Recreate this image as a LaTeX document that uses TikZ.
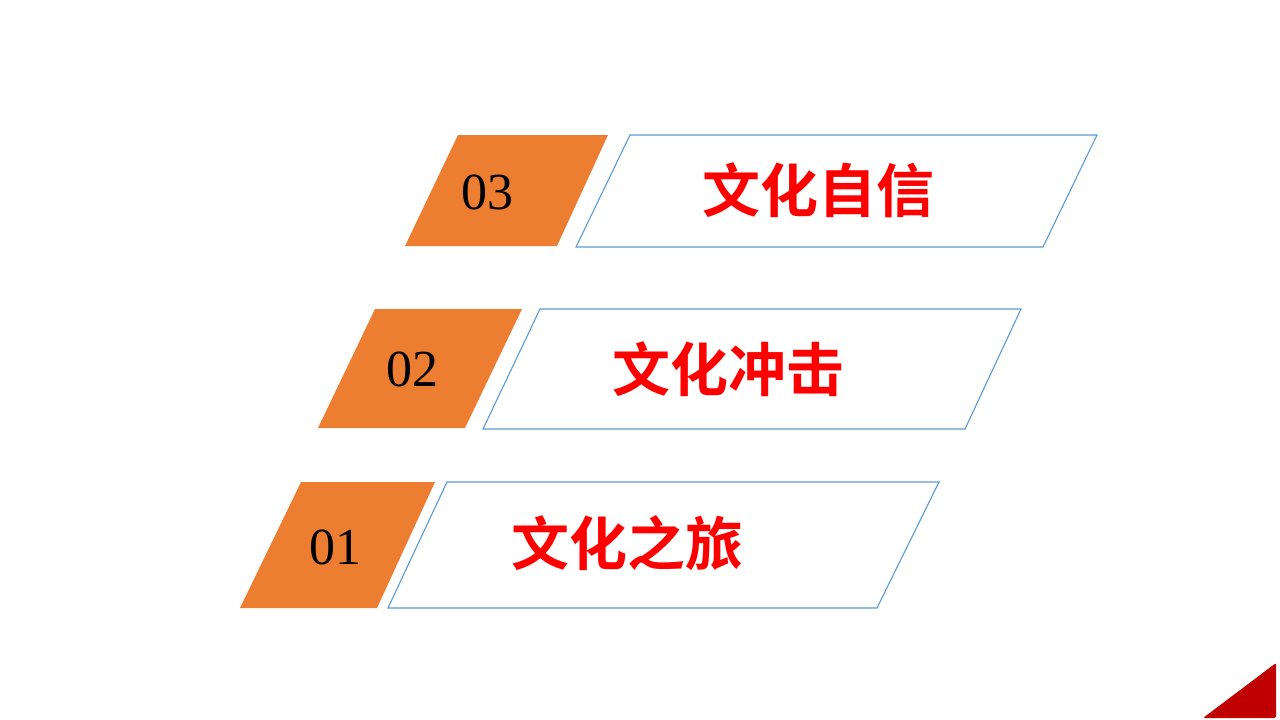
\documentclass[tikz,border=0pt]{standalone}
\usepackage{fontspec}
\setmainfont{Liberation Serif}
\newfontfamily\cjk{Noto Sans CJK SC}[BoldFont={Noto Sans CJK SC Bold}]
\definecolor{tagorange}{HTML}{ED7D31}
\definecolor{boxblue}{HTML}{5B9BD5}
\definecolor{cornerred}{HTML}{C00000}
\begin{document}
\begin{tikzpicture}[x=1pt,y=-1pt,
  tag/.style={fill=tagorange},
  frame/.style={draw=boxblue, line width=1.1pt, fill=white},
  num/.style={font=\fontsize{52}{52}\selectfont, text=black},
  title/.style={font=\cjk\bfseries\fontsize{58}{62}\selectfont, text=red}]
\useasboundingbox (0,0) rectangle (1280,720);

\path[tag] (458,135) -- (608,135) -- (557,246) -- (405,246) -- cycle;
\path[frame] (630,135) -- (1097,135) -- (1043,247) -- (576,247) -- cycle;
\path[tag] (375,309) -- (522,309) -- (465,428) -- (318,428) -- cycle;
\path[frame] (540,309) -- (1021,309) -- (965,429) -- (483,429) -- cycle;
\path[tag] (301,482) -- (435,482) -- (377,608) -- (240,608) -- cycle;
\path[frame] (447,482) -- (939,482) -- (877,608) -- (388,608) -- cycle;

\node[num] (n3) at (487,192) {03};
\node[num] (n2) at (412,369) {02};
\node[num] (n1) at (335,547) {01};
\node[title] (t3) at (818,190) {文化自信};
\node[title] (t2) at (728,369) {文化冲击};
\node[title] (t1) at (627,543) {文化之旅};

\path[fill=cornerred, rounded corners=2pt] (1276,663) -- (1276,718) -- (1203,718) -- cycle;
\end{tikzpicture}
\end{document}
